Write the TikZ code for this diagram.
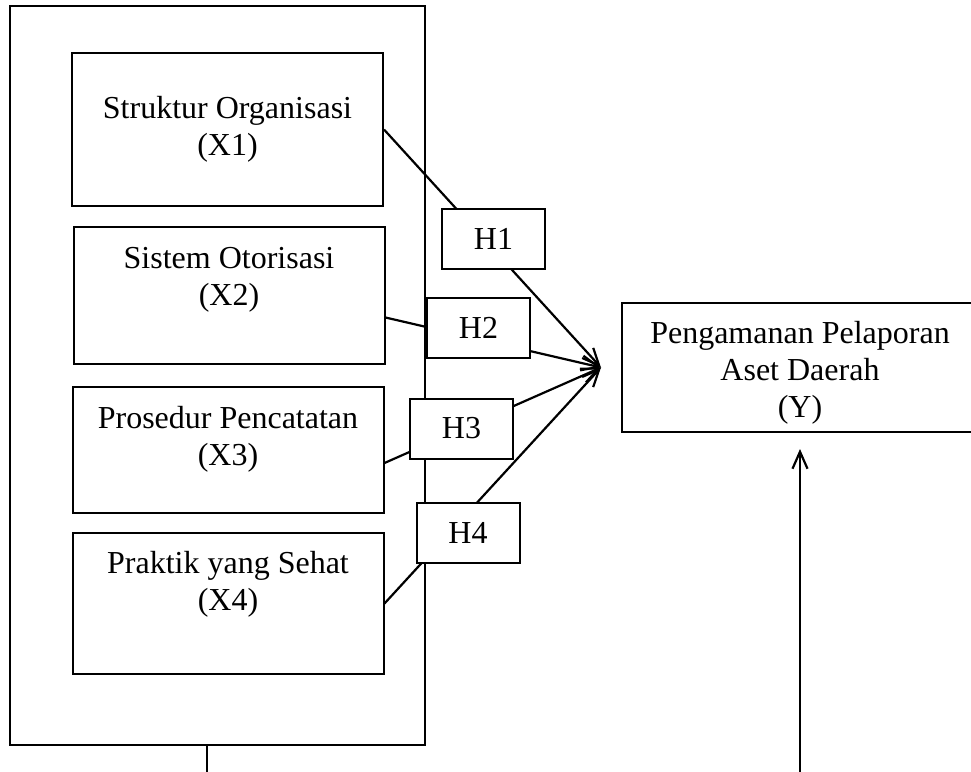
\documentclass[tikz,border=0pt]{standalone}
\usepackage{fontspec}
\setmainfont{Liberation Serif}
\usetikzlibrary{arrows.meta}

\tikzset{
  every node/.style={font=\fontsize{16}{18.5}\selectfont},
  frame/.style={draw, line width=1pt},
  varbox/.style={frame, minimum width=155.5pt, inner sep=0pt, align=center},
  hbox/.style={frame, fill=white, minimum width=51.5pt, minimum height=30pt},
  lbl/.style={align=center, inner sep=0pt},
  link/.style={line width=1.1pt, -{Straight Barb[length=8.5pt,width=7.5pt]}}
}

\begin{document}
\begin{tikzpicture}[x=0.5pt, y=-0.5pt]
  \useasboundingbox (0,0) rectangle (971,772);
  % variabel X
  \node[frame, minimum width=207.5pt, minimum height=369.5pt] (group) at (217.5,375.5) {};
  \node[varbox, minimum height=76.5pt] (x1) at (227.5,129.5) {Struktur Organisasi\\(X1)};
  \node[varbox, minimum height=68.5pt] (x2) at (229,295.5) {};
  \node[lbl] (x2t) at (229,280) {Sistem Otorisasi\\(X2)};
  \node[varbox, minimum height=63pt] (x3) at (228,450) {};
  \node[lbl] (x3t) at (228,439) {Prosedur Pencatatan\\(X3)};
  \node[varbox, minimum height=70.5pt] (x4) at (228,603.5) {};
  \node[lbl] (x4t) at (228,584) {Praktik yang Sehat\\(X4)};
  % variabel Y
  \node[varbox, minimum width=178pt, minimum height=64.5pt] (y) at (800,367.5) {};
  \node[lbl] (yt) at (800,373) {Pengamanan Pelaporan\\Aset Daerah\\(Y)};
  \coordinate (cutL) at (207,772);
  \coordinate (cutR) at (800,772);
  \draw[link] (x1.east) -- ([xshift=-10pt]y.west);
  \draw[link] ([yshift=-11pt]x2.east) -- ([xshift=-10pt]y.west);
  \draw[link] ([yshift=-6.5pt]x3.east) -- ([xshift=-10pt]y.west);
  \draw[link] (x4.east) -- ([xshift=-10pt]y.west);
  \draw[link] (cutR) -- ([yshift=-8pt]y.south);
  \draw[line width=1.1pt] (cutL |- group.south) -- (cutL);
  % hipotesis
  \node[hbox] (h1) at (493.5,239) {H1};
  \node[hbox] (h2) at (478.5,327.5) {H2};
  \node[hbox] (h3) at (461.5,428.5) {H3};
  \node[hbox] (h4) at (468,532.5) {H4};
\end{tikzpicture}
\end{document}
